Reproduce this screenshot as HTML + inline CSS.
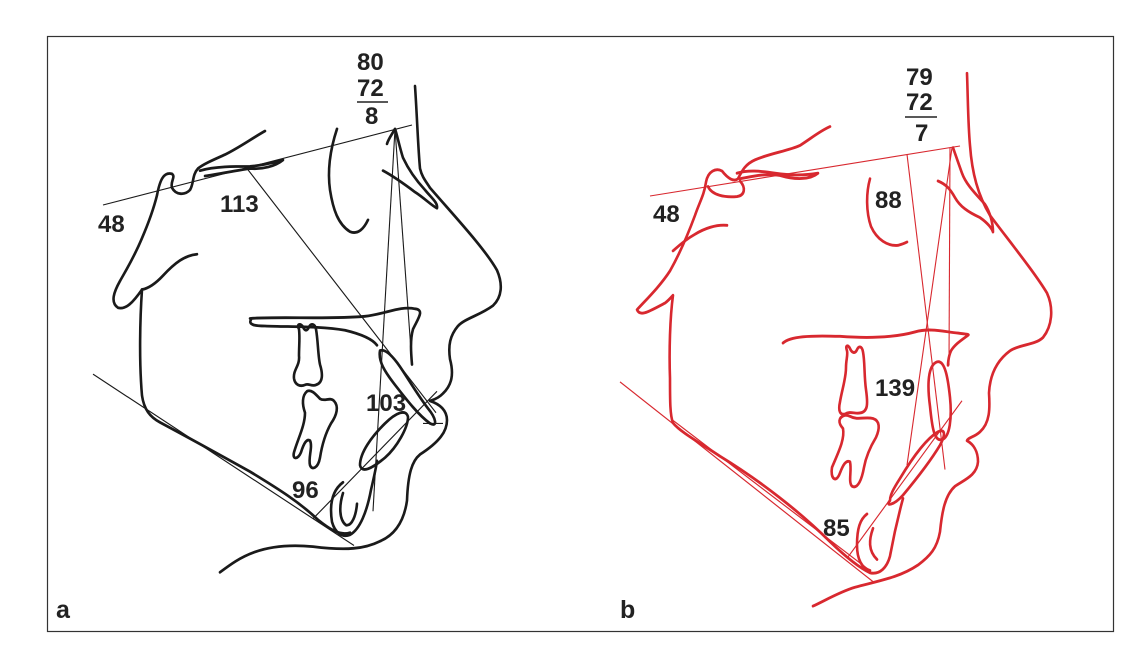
<!DOCTYPE html>
<html><head><meta charset="utf-8"><style>
html,body{margin:0;padding:0;background:#fff;}
svg{display:block;}
text{font-family:"Liberation Sans",sans-serif;font-weight:bold;font-size:24px;fill:#222;}
</style></head><body>
<svg width="1133" height="658" viewBox="0 0 1133 658" xmlns="http://www.w3.org/2000/svg">
<rect x="47.5" y="36.5" width="1066" height="595" fill="none" stroke="#333" stroke-width="1.2"/>

<!-- LEFT (black) -->
<g transform="translate(0,40) scale(1,1.071) translate(0,-40)">
<g fill="none" stroke="#1a1a1a" stroke-width="2.6" stroke-linecap="round" stroke-linejoin="round">
<path d="M415,83 C417,110 418,140 420,160 C422,168 426,172 430,178 C455,205 485,235 497,255 C503,268 502,280 493,288 C480,297 465,300 458,307 C450,316 448,325 450,338 C454,352 452,362 443,370 C438,375 433,376 430,377 C440,380 447,386 447,395 C447,405 440,415 420,427 C412,433 408,445 407,470 C404,490 395,502 380,508 C365,515 347,517 313,513 C290,511 270,513 255,518 C240,523 230,530 220,537"/>
<path d="M265,125 C250,133 240,140 225,147 C213,152 203,156 198,160 C192,166 194,174 190,180 C185,185 176,185 172,178 C170,172 176,168 172,165 C164,163 160,170 157,185 C153,200 148,212 142,225 C134,243 126,255 120,265 C114,275 110,285 118,290 C126,292 133,285 142,273 C140,300 139,340 142,372 C144,385 150,392 160,397 C190,412 225,430 250,443 C280,460 300,472 318,488 C330,497 340,503 350,500"/>
<path d="M197,240 C185,241 175,248 163,260 C155,268 148,272 142,273"/>
<path d="M200,162 C215,158 235,158 250,158 C265,157 278,153 283,152 C275,158 262,161 250,160 C235,162 220,165 205,167"/>
<path d="M337,123 C331,140 327,160 330,180 C333,198 338,212 350,219 C358,222 364,216 368,208"/>
<path d="M383,162 C395,168 405,175 415,182 C425,188 432,195 437,197 C438,192 432,188 425,180 C415,170 408,160 403,150 C399,138 397,128 395,123 C392,128 388,133 387,137"/>
<path d="M250,300 C280,298 330,301 365,298 C385,296 400,288 415,291 C425,292 418,300 413,310 C410,320 411,332 412,343"/>
<path d="M251,301 C248,306 255,307 265,307 C290,308 320,307 345,311 C363,315 373,320 377,325"/>
<path d="M380,330 C378,340 385,350 395,362 C405,374 418,390 430,398 C438,402 436,393 428,384 C418,372 408,356 400,345 C394,337 386,328 380,330 Z"/>
<path d="M360,437 C362,445 372,440 385,430 C397,420 408,402 408,392 C406,384 396,388 385,398 C372,410 360,425 360,437 Z"/>
<path d="M343,453 C333,460 329,472 332,490 C335,500 342,505 350,502 C360,497 367,480 371,460 C374,448 376,440 377,433"/>
<path d="M343,463 C339,475 339,488 346,493 C352,494 356,484 357,473"/>
<path d="M299,310 C296,305 301,304 303,308 C305,312 307,312 309,308 C311,304 315,305 316,310 C318,320 318,335 320,343 C323,352 323,360 316,362 C312,364 308,360 305,362 C300,364 295,362 294,356 C293,348 300,344 299,335 C299,325 300,318 299,310 Z"/>
<path d="M307,368 C302,372 302,380 305,388 C305,400 298,412 294,425 C292,432 298,432 301,425 C304,416 307,412 310,414 C313,420 308,430 310,437 C312,442 318,440 320,430 C322,418 325,408 331,398 C337,390 339,382 334,377 C330,373 325,378 320,375 C315,370 311,366 307,368 Z"/>
</g>
<g fill="none" stroke="#1a1a1a" stroke-width="1.1">
<line x1="247" y1="160" x2="436" y2="388"/>
<line x1="395" y1="123" x2="373" y2="480"/>
<line x1="395" y1="123" x2="412" y2="343"/>
<line x1="93" y1="352" x2="354" y2="512"/>
<line x1="313" y1="487" x2="437" y2="368"/>
<line x1="423" y1="398" x2="443" y2="398"/>
</g>
</g>
<line x1="103" y1="205" x2="412" y2="125" stroke="#1a1a1a" stroke-width="1.1"/>
<line x1="357" y1="102" x2="388" y2="102" stroke="#222" stroke-width="1.4"/>
<text x="357" y="70">80</text>
<text x="357" y="96">72</text>
<text x="365" y="124">8</text>
<text x="98" y="232">48</text>
<text x="220" y="212">113</text>
<text x="366" y="411">103</text>
<text x="292" y="498">96</text>
<text x="56" y="618" style="font-size:25px">a</text>

<!-- RIGHT (red) -->
<g transform="translate(0,40) scale(1,1.11) translate(0,-40)">
<g fill="none" stroke="#d8282f" stroke-width="2.6" stroke-linecap="round" stroke-linejoin="round">
<path d="M967,70 C968,95 968,115 970,135 C972,160 978,180 990,198 C1010,222 1035,250 1047,268 C1054,282 1052,298 1043,308 C1035,315 1020,314 1010,320 C998,328 990,340 989,358 C990,372 990,385 980,393 C974,398 968,398 967,401 C973,404 978,410 978,420 C977,432 965,436 955,442 C945,450 942,465 940,483 C937,498 930,505 918,513 C900,524 880,527 855,533 C840,537 825,545 813,550"/>
<path d="M830,118 C820,122 812,128 800,135 C788,140 770,142 755,148 C745,152 742,158 738,165 C734,168 728,165 722,158 C716,155 708,158 706,168 C704,180 700,185 695,198 C688,215 680,232 670,248 C660,262 645,275 637,283 C640,290 650,284 665,277 C668,275 671,272 673,270 C670,290 669,320 670,345 C670,365 670,378 673,385 C680,393 700,403 720,415 C760,437 800,465 830,492 C845,505 858,515 870,520 C880,522 887,515 890,505 C893,490 897,473 903,453"/>
<path d="M727,207 C716,206 704,210 695,215 C685,220 678,226 673,230"/>
<path d="M708,172 C712,180 725,182 737,181 C745,180 746,173 740,167"/>
<path d="M737,160 C748,157 760,158 775,160 C790,162 805,162 818,160 C810,166 795,166 780,162 C765,160 752,163 740,165"/>
<path d="M870,165 C866,178 866,195 871,208 C877,220 888,226 898,225 C902,224 905,223 907,222"/>
<path d="M938,167 C946,170 950,174 955,182 C960,190 968,195 980,200 C988,205 992,210 993,213 C993,205 990,195 985,188 C975,178 966,170 962,160 C958,150 955,142 953,137"/>
<path d="M783,313 C790,307 810,306 840,307 C870,309 895,308 915,303 C930,299 945,303 958,304 C965,305 970,305 968,306 C962,310 955,314 951,320 C948,326 948,333 948,333"/>
<path d="M937,330 C928,333 927,350 930,370 C932,388 934,402 942,400 C950,398 952,380 950,362 C948,345 945,328 937,330 Z"/>
<path d="M890,455 C885,460 893,460 903,450 C915,437 930,420 940,405 C946,395 945,390 938,393 C925,400 910,420 900,435 C893,445 890,450 890,455 Z"/>
<path d="M867,467 C860,472 857,480 857,495 C857,508 862,516 870,518"/>
<path d="M873,480 C869,490 868,500 877,508"/>
<path d="M847,320 C845,315 848,314 850,318 C852,322 855,323 857,319 C859,315 862,316 863,321 C865,330 864,342 866,355 C868,368 868,375 860,376 C855,377 850,374 845,377 C840,378 838,374 840,366 C842,355 846,345 846,335 C846,328 848,324 847,320 Z"/>
<path d="M845,378 C838,380 838,385 843,390 C845,400 838,412 832,425 C830,435 836,440 840,430 C843,423 846,418 850,420 C852,428 848,438 852,442 C858,445 862,435 864,425 C866,415 870,407 876,398 C880,390 880,383 873,381 C865,379 858,383 850,379 C848,378 846,378 845,378 Z"/>
</g>
<g fill="none" stroke="#d8282f" stroke-width="1.1">
<line x1="907" y1="143" x2="945" y2="427"/>
<line x1="952" y1="137" x2="907" y2="423"/>
<line x1="950" y1="137" x2="949" y2="333"/>
<line x1="620" y1="348" x2="873" y2="528"/>
<line x1="847" y1="507" x2="962" y2="365"/>
<line x1="672" y1="382" x2="870" y2="518"/>
</g>
</g>
<line x1="650" y1="196" x2="960" y2="146" stroke="#d8282f" stroke-width="1.1"/>
<line x1="905" y1="117" x2="937" y2="117" stroke="#222" stroke-width="1.4"/>
<text x="906" y="85">79</text>
<text x="906" y="110">72</text>
<text x="915" y="141">7</text>
<text x="653" y="222">48</text>
<text x="875" y="208">88</text>
<text x="875" y="396">139</text>
<text x="823" y="536">85</text>
<text x="620" y="618" style="font-size:25px">b</text>
</svg>
</body></html>
